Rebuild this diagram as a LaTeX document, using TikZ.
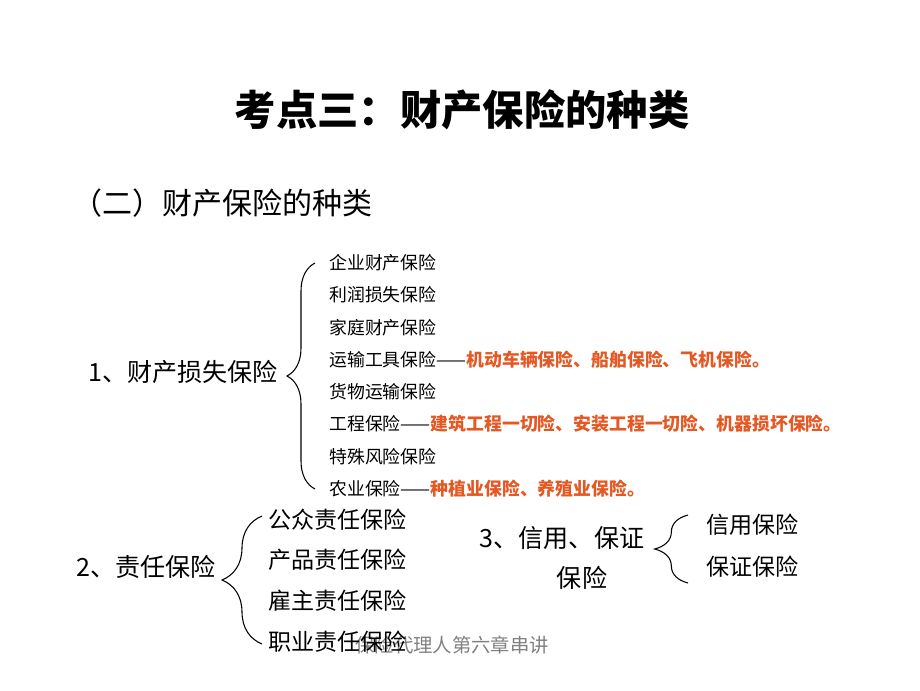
\documentclass[tikz,border=0pt]{standalone}
\usepackage{fontspec}
\setmainfont{Noto Sans CJK SC}
\usetikzlibrary{decorations.pathreplacing}
\definecolor{hl}{RGB}{228,88,36}

\begin{document}
\begin{tikzpicture}[
  x=0.75pt, y=-0.75pt,
  itm/.style={anchor=west, inner sep=0pt, font=\fontsize{13.4}{16}\selectfont},
  itmb/.style={anchor=west, inner sep=0pt, font=\fontsize{17.3}{21}\selectfont},
  hd/.style={anchor=west, inner sep=0pt, font=\fontsize{18.8}{23}\selectfont},
  brc/.style={decorate, decoration={brace, amplitude=#1}, line width=0.8pt},
]
\useasboundingbox (0,0) rectangle (920,690);

\node [font=\bfseries\fontsize{31}{37}\selectfont] (title) at (462,110) {考点三：财产保险的种类};
\node [anchor=west, inner sep=0pt, font=\fontsize{22.5}{27}\selectfont] (sub) at (72,203) {（二）财产保险的种类};

\node [text=gray, font=\fontsize{14.5}{17}\selectfont] (foot) at (452,645) {保险代理人第六章串讲};

% 1
\node [hd] (h1) at (88,372) {1、财产损失保险};
\node [itm] (a1) at (329,263) {企业财产保险};
\node [itm] (a2) at (329,295) {利润损失保险};
\node [itm] (a3) at (329,328) {家庭财产保险};
\node [itm] (a4) at (329,360) {运输工具保险——\textcolor{hl}{\bfseries 机动车辆保险、船舶保险、飞机保险。}};
\node [itm] (a5) at (329,392) {货物运输保险};
\node [itm] (a6) at (329,424) {工程保险——\textcolor{hl}{\bfseries 建筑工程一切险、安装工程一切险、机器损坏保险。}};
\node [itm] (a7) at (329,457) {特殊风险保险};
\node [itm] (a8) at (329,489) {农业保险——\textcolor{hl}{\bfseries 种植业保险、养殖业保险。}};
\draw [brc=21pt] ([xshift=-10.5pt]a8.west) -- ([xshift=-10.5pt]a1.west);

% 2
\node [hd] (h2) at (76,567) {2、责任保险};
\node [itmb] (b1) at (268,520) {公众责任保险};
\node [itmb] (b2) at (268,560) {产品责任保险};
\node [itmb] (b3) at (268,601) {雇主责任保险};
\node [itmb] (b4) at (268,642) {职业责任保险};
\draw [brc=30pt] ([xshift=-4.5pt,yshift=-1.5pt]b4.west) -- ([xshift=-4.5pt,yshift=3pt]b1.west);

% 3
\node [font=\fontsize{18.8}{30}\selectfont, align=center, inner sep=0pt] (h3) at (562,558) {3、信用、保证\\\hspace*{1.6em}保险};
\node [itmb] (c1) at (706,525) {信用保险};
\node [itmb] (c2) at (706,567) {保证保险};
\draw [brc=25pt] ([xshift=-13.5pt,yshift=-12pt]c2.west) -- ([xshift=-13.5pt,yshift=7.5pt]c1.west);

\end{tikzpicture}
\end{document}
